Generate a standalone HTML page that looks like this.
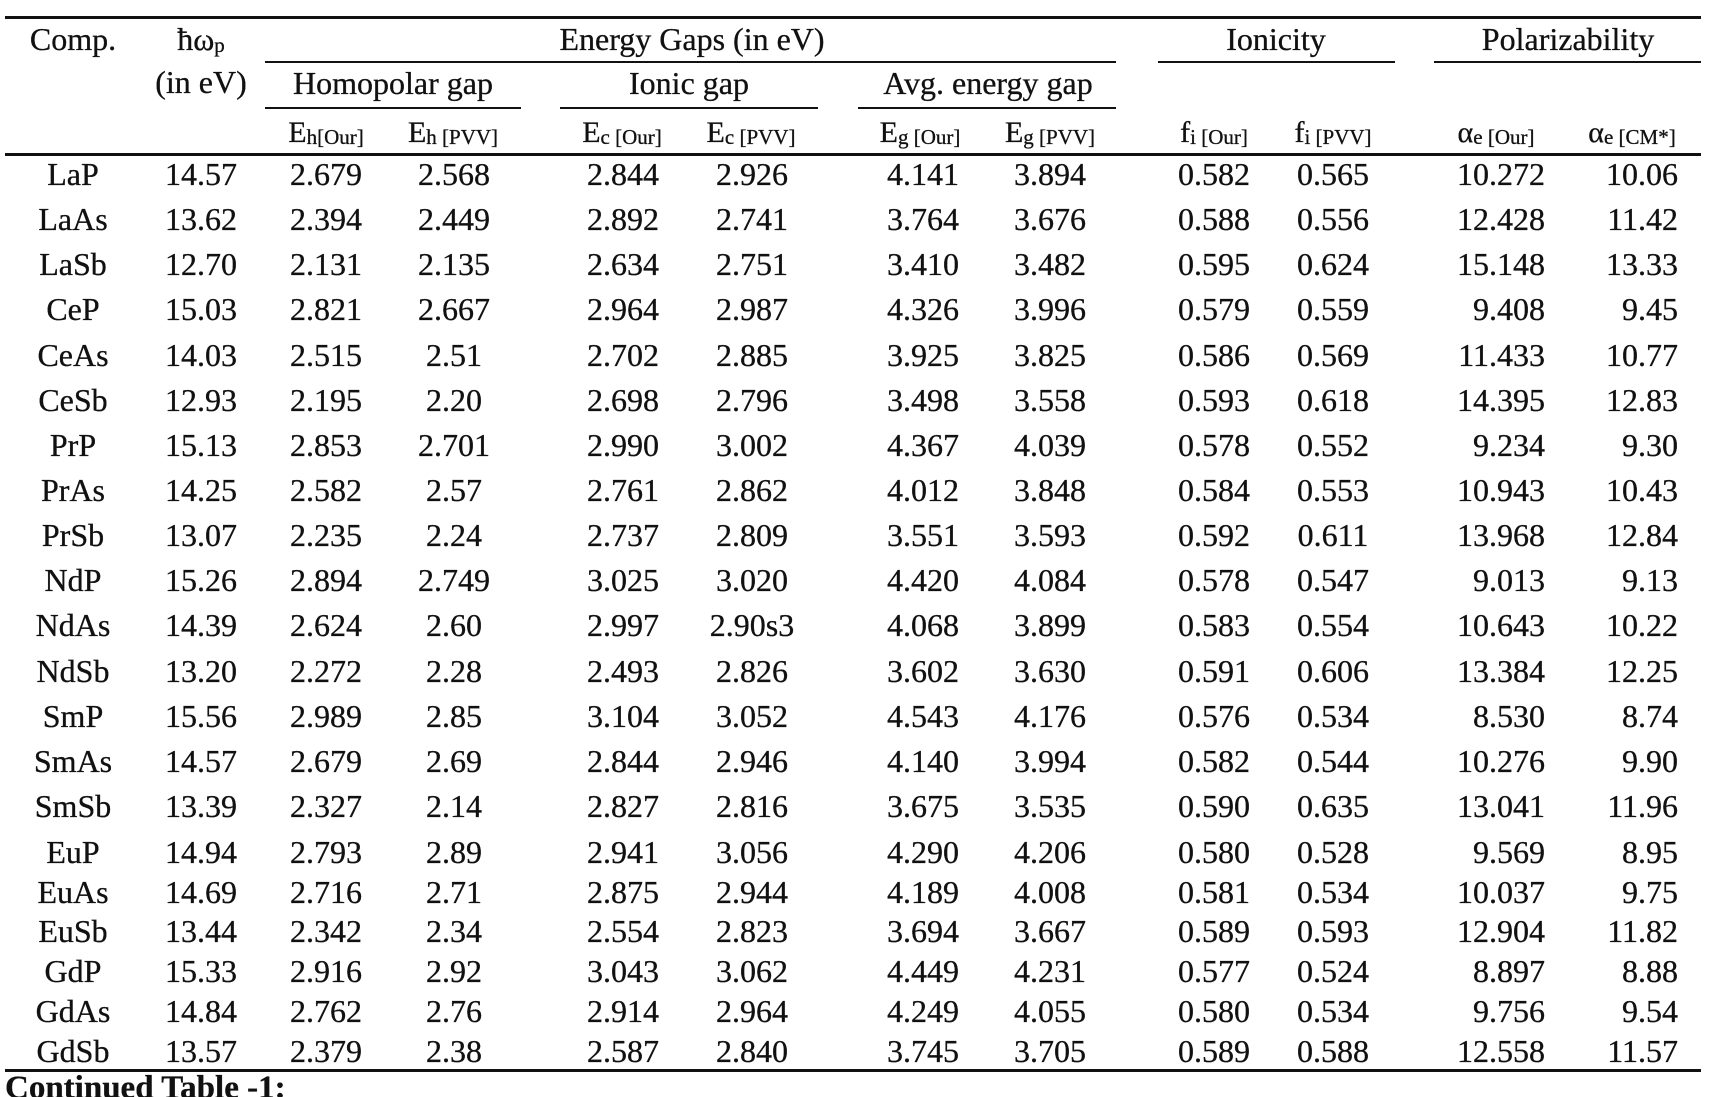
<!DOCTYPE html>
<html><head><meta charset="utf-8">
<style>
html,body{margin:0;padding:0;background:#fff;}
#c{position:relative;width:1712px;height:1097px;overflow:hidden;background:#fff;font-family:"Liberation Serif","DejaVu Serif",serif;color:#111;}
.t{position:absolute;white-space:nowrap;font-size:32px;line-height:32px;-webkit-text-stroke:0.3px #111;}
.c{transform:translateX(-50%);}
.r{transform:translateX(-100%);}
.h{position:absolute;background:#111;}
.sub{font-size:21px;vertical-align:-2px;}
.E{font-size:30px;}
</style></head><body>
<div id="c">
<div class="h" style="left:5px;top:16px;width:1696px;height:3px"></div>
<div class="h" style="left:5px;top:153px;width:1696px;height:3px"></div>
<div class="h" style="left:5px;top:1069px;width:1696px;height:3px"></div>
<div class="h" style="left:265px;top:61px;width:851px;height:2px"></div>
<div class="h" style="left:1158px;top:61px;width:237px;height:2px"></div>
<div class="h" style="left:1434px;top:61px;width:267px;height:2px"></div>
<div class="h" style="left:265px;top:107px;width:256px;height:2px"></div>
<div class="h" style="left:560px;top:107px;width:258px;height:2px"></div>
<div class="h" style="left:858px;top:107px;width:258px;height:2px"></div>

<div class="t c" style="left:73px;top:23px">Comp.</div>
<div class="t c" style="left:201px;top:23px">ħω<span class="sub">p</span></div>
<div class="t c" style="left:201px;top:66px">(in eV)</div>
<div class="t c" style="left:692px;top:23px">Energy Gaps (in eV)</div>
<div class="t c" style="left:1276px;top:23px">Ionicity</div>
<div class="t c" style="left:1568px;top:23px">Polarizability</div>
<div class="t c" style="left:393px;top:67px">Homopolar gap</div>
<div class="t c" style="left:689px;top:67px">Ionic gap</div>
<div class="t c" style="left:988px;top:67px">Avg. energy gap</div>

<div class="t c" style="left:326px;top:115px"><span class="E">E</span><span class="sub">h[Our]</span></div>
<div class="t c" style="left:453px;top:115px"><span class="E">E</span><span class="sub">h [PVV]</span></div>
<div class="t c" style="left:622px;top:115px"><span class="E">E</span><span class="sub">c [Our]</span></div>
<div class="t c" style="left:751px;top:115px"><span class="E">E</span><span class="sub">c [PVV]</span></div>
<div class="t c" style="left:920px;top:115px"><span class="E">E</span><span class="sub">g [Our]</span></div>
<div class="t c" style="left:1050px;top:115px"><span class="E">E</span><span class="sub">g [PVV]</span></div>
<div class="t c" style="left:1214px;top:115px"><span class="E">f</span><span class="sub">i [Our]</span></div>
<div class="t c" style="left:1333px;top:115px"><span class="E">f</span><span class="sub">i [PVV]</span></div>
<div class="t c" style="left:1496px;top:115px"><span class="E">α</span><span class="sub">e [Our]</span></div>
<div class="t c" style="left:1632px;top:115px"><span class="E">α</span><span class="sub">e [CM*]</span></div>

<div id="rows"></div>

<div class="t" style="left:5px;top:1072px;font-weight:bold;font-size:33px;line-height:33px">Continued Table -1:</div>
</div>
<script>
(function(){
var data=[
["LaP","14.57","2.679","2.568","2.844","2.926","4.141","3.894","0.582","0.565","10.272","10.06"],
["LaAs","13.62","2.394","2.449","2.892","2.741","3.764","3.676","0.588","0.556","12.428","11.42"],
["LaSb","12.70","2.131","2.135","2.634","2.751","3.410","3.482","0.595","0.624","15.148","13.33"],
["CeP","15.03","2.821","2.667","2.964","2.987","4.326","3.996","0.579","0.559","9.408","9.45"],
["CeAs","14.03","2.515","2.51","2.702","2.885","3.925","3.825","0.586","0.569","11.433","10.77"],
["CeSb","12.93","2.195","2.20","2.698","2.796","3.498","3.558","0.593","0.618","14.395","12.83"],
["PrP","15.13","2.853","2.701","2.990","3.002","4.367","4.039","0.578","0.552","9.234","9.30"],
["PrAs","14.25","2.582","2.57","2.761","2.862","4.012","3.848","0.584","0.553","10.943","10.43"],
["PrSb","13.07","2.235","2.24","2.737","2.809","3.551","3.593","0.592","0.611","13.968","12.84"],
["NdP","15.26","2.894","2.749","3.025","3.020","4.420","4.084","0.578","0.547","9.013","9.13"],
["NdAs","14.39","2.624","2.60","2.997","2.90s3","4.068","3.899","0.583","0.554","10.643","10.22"],
["NdSb","13.20","2.272","2.28","2.493","2.826","3.602","3.630","0.591","0.606","13.384","12.25"],
["SmP","15.56","2.989","2.85","3.104","3.052","4.543","4.176","0.576","0.534","8.530","8.74"],
["SmAs","14.57","2.679","2.69","2.844","2.946","4.140","3.994","0.582","0.544","10.276","9.90"],
["SmSb","13.39","2.327","2.14","2.827","2.816","3.675","3.535","0.590","0.635","13.041","11.96"],
["EuP","14.94","2.793","2.89","2.941","3.056","4.290","4.206","0.580","0.528","9.569","8.95"],
["EuAs","14.69","2.716","2.71","2.875","2.944","4.189","4.008","0.581","0.534","10.037","9.75"],
["EuSb","13.44","2.342","2.34","2.554","2.823","3.694","3.667","0.589","0.593","12.904","11.82"],
["GdP","15.33","2.916","2.92","3.043","3.062","4.449","4.231","0.577","0.524","8.897","8.88"],
["GdAs","14.84","2.762","2.76","2.914","2.964","4.249","4.055","0.580","0.534","9.756","9.54"],
["GdSb","13.57","2.379","2.38","2.587","2.840","3.745","3.705","0.589","0.588","12.558","11.57"]
];
var base=[];
for(var i=0;i<15;i++)base.push(185+45.14*i);
base=base.concat([863,903,942,982,1022,1062]);
var xs=[73,201,326,454,623,752,923,1050,1214,1333,1545,1678];
var html="";
for(var i=0;i<data.length;i++){
 var ty=Math.round(base[i]-27);
 for(var j=0;j<12;j++){
  var cls=j>=10?"t r":"t c";
  html+='<div class="'+cls+'" style="left:'+xs[j]+'px;top:'+ty+'px">'+data[i][j]+'</div>';
 }
}
document.getElementById("rows").innerHTML=html;
})();
</script>
</body></html>
